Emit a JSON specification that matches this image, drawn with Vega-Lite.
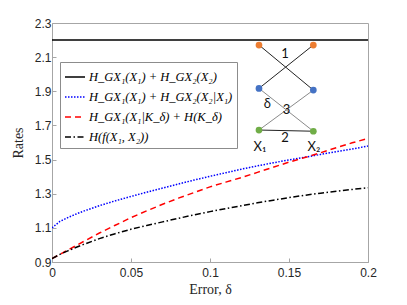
{
  "$schema": "https://vega.github.io/schema/vega-lite/v6.json",
  "width": 316,
  "height": 239,
  "autosize": {"type": "none"},
  "padding": {"left": 52, "top": 23, "right": 39, "bottom": 43},
  "background": "white",
  "datasets": {
    "curves": [
      {"series": "H_GX₁(X₁) + H_GX₂(X₂)", "delta": 0, "rate": 2.2},
      {"series": "H_GX₁(X₁) + H_GX₂(X₂)", "delta": 0.2, "rate": 2.2},
      {"series": "H_GX₁(X₁) + H_GX₂(X₂|X₁)", "delta": 0, "rate": 1.1},
      {"series": "H_GX₁(X₁) + H_GX₂(X₂|X₁)", "delta": 0.005, "rate": 1.138},
      {"series": "H_GX₁(X₁) + H_GX₂(X₂|X₁)", "delta": 0.01, "rate": 1.16},
      {"series": "H_GX₁(X₁) + H_GX₂(X₂|X₁)", "delta": 0.015, "rate": 1.18},
      {"series": "H_GX₁(X₁) + H_GX₂(X₂|X₁)", "delta": 0.02, "rate": 1.198},
      {"series": "H_GX₁(X₁) + H_GX₂(X₂|X₁)", "delta": 0.03, "rate": 1.23},
      {"series": "H_GX₁(X₁) + H_GX₂(X₂|X₁)", "delta": 0.04, "rate": 1.258},
      {"series": "H_GX₁(X₁) + H_GX₂(X₂|X₁)", "delta": 0.05, "rate": 1.284},
      {"series": "H_GX₁(X₁) + H_GX₂(X₂|X₁)", "delta": 0.06, "rate": 1.309},
      {"series": "H_GX₁(X₁) + H_GX₂(X₂|X₁)", "delta": 0.07, "rate": 1.333},
      {"series": "H_GX₁(X₁) + H_GX₂(X₂|X₁)", "delta": 0.08, "rate": 1.357},
      {"series": "H_GX₁(X₁) + H_GX₂(X₂|X₁)", "delta": 0.09, "rate": 1.38},
      {"series": "H_GX₁(X₁) + H_GX₂(X₂|X₁)", "delta": 0.1, "rate": 1.402},
      {"series": "H_GX₁(X₁) + H_GX₂(X₂|X₁)", "delta": 0.11, "rate": 1.423},
      {"series": "H_GX₁(X₁) + H_GX₂(X₂|X₁)", "delta": 0.12, "rate": 1.444},
      {"series": "H_GX₁(X₁) + H_GX₂(X₂|X₁)", "delta": 0.13, "rate": 1.463},
      {"series": "H_GX₁(X₁) + H_GX₂(X₂|X₁)", "delta": 0.14, "rate": 1.481},
      {"series": "H_GX₁(X₁) + H_GX₂(X₂|X₁)", "delta": 0.15, "rate": 1.498},
      {"series": "H_GX₁(X₁) + H_GX₂(X₂|X₁)", "delta": 0.16, "rate": 1.514},
      {"series": "H_GX₁(X₁) + H_GX₂(X₂|X₁)", "delta": 0.17, "rate": 1.53},
      {"series": "H_GX₁(X₁) + H_GX₂(X₂|X₁)", "delta": 0.18, "rate": 1.546},
      {"series": "H_GX₁(X₁) + H_GX₂(X₂|X₁)", "delta": 0.19, "rate": 1.562},
      {"series": "H_GX₁(X₁) + H_GX₂(X₂|X₁)", "delta": 0.2, "rate": 1.579},
      {"series": "H_GX₁(X₁|K_δ) + H(K_δ)", "delta": 0, "rate": 0.92},
      {"series": "H_GX₁(X₁|K_δ) + H(K_δ)", "delta": 0.005, "rate": 0.945},
      {"series": "H_GX₁(X₁|K_δ) + H(K_δ)", "delta": 0.01, "rate": 0.97},
      {"series": "H_GX₁(X₁|K_δ) + H(K_δ)", "delta": 0.015, "rate": 0.995},
      {"series": "H_GX₁(X₁|K_δ) + H(K_δ)", "delta": 0.02, "rate": 1.02},
      {"series": "H_GX₁(X₁|K_δ) + H(K_δ)", "delta": 0.03, "rate": 1.07},
      {"series": "H_GX₁(X₁|K_δ) + H(K_δ)", "delta": 0.04, "rate": 1.115},
      {"series": "H_GX₁(X₁|K_δ) + H(K_δ)", "delta": 0.05, "rate": 1.16},
      {"series": "H_GX₁(X₁|K_δ) + H(K_δ)", "delta": 0.06, "rate": 1.2},
      {"series": "H_GX₁(X₁|K_δ) + H(K_δ)", "delta": 0.07, "rate": 1.238},
      {"series": "H_GX₁(X₁|K_δ) + H(K_δ)", "delta": 0.08, "rate": 1.274},
      {"series": "H_GX₁(X₁|K_δ) + H(K_δ)", "delta": 0.09, "rate": 1.307},
      {"series": "H_GX₁(X₁|K_δ) + H(K_δ)", "delta": 0.1, "rate": 1.34},
      {"series": "H_GX₁(X₁|K_δ) + H(K_δ)", "delta": 0.11, "rate": 1.368},
      {"series": "H_GX₁(X₁|K_δ) + H(K_δ)", "delta": 0.12, "rate": 1.395},
      {"series": "H_GX₁(X₁|K_δ) + H(K_δ)", "delta": 0.13, "rate": 1.425},
      {"series": "H_GX₁(X₁|K_δ) + H(K_δ)", "delta": 0.14, "rate": 1.455},
      {"series": "H_GX₁(X₁|K_δ) + H(K_δ)", "delta": 0.15, "rate": 1.485},
      {"series": "H_GX₁(X₁|K_δ) + H(K_δ)", "delta": 0.16, "rate": 1.512},
      {"series": "H_GX₁(X₁|K_δ) + H(K_δ)", "delta": 0.17, "rate": 1.54},
      {"series": "H_GX₁(X₁|K_δ) + H(K_δ)", "delta": 0.18, "rate": 1.57},
      {"series": "H_GX₁(X₁|K_δ) + H(K_δ)", "delta": 0.19, "rate": 1.598},
      {"series": "H_GX₁(X₁|K_δ) + H(K_δ)", "delta": 0.2, "rate": 1.624},
      {"series": "H(f(X₁, X₂))", "delta": 0, "rate": 0.92},
      {"series": "H(f(X₁, X₂))", "delta": 0.005, "rate": 0.945},
      {"series": "H(f(X₁, X₂))", "delta": 0.01, "rate": 0.965},
      {"series": "H(f(X₁, X₂))", "delta": 0.015, "rate": 0.985},
      {"series": "H(f(X₁, X₂))", "delta": 0.02, "rate": 1.003},
      {"series": "H(f(X₁, X₂))", "delta": 0.03, "rate": 1.037},
      {"series": "H(f(X₁, X₂))", "delta": 0.04, "rate": 1.066},
      {"series": "H(f(X₁, X₂))", "delta": 0.05, "rate": 1.092},
      {"series": "H(f(X₁, X₂))", "delta": 0.06, "rate": 1.114},
      {"series": "H(f(X₁, X₂))", "delta": 0.07, "rate": 1.135},
      {"series": "H(f(X₁, X₂))", "delta": 0.08, "rate": 1.156},
      {"series": "H(f(X₁, X₂))", "delta": 0.09, "rate": 1.176},
      {"series": "H(f(X₁, X₂))", "delta": 0.1, "rate": 1.195},
      {"series": "H(f(X₁, X₂))", "delta": 0.11, "rate": 1.213},
      {"series": "H(f(X₁, X₂))", "delta": 0.12, "rate": 1.23},
      {"series": "H(f(X₁, X₂))", "delta": 0.13, "rate": 1.247},
      {"series": "H(f(X₁, X₂))", "delta": 0.14, "rate": 1.262},
      {"series": "H(f(X₁, X₂))", "delta": 0.15, "rate": 1.277},
      {"series": "H(f(X₁, X₂))", "delta": 0.16, "rate": 1.291},
      {"series": "H(f(X₁, X₂))", "delta": 0.17, "rate": 1.303},
      {"series": "H(f(X₁, X₂))", "delta": 0.18, "rate": 1.314},
      {"series": "H(f(X₁, X₂))", "delta": 0.19, "rate": 1.325},
      {"series": "H(f(X₁, X₂))", "delta": 0.2, "rate": 1.335}
    ],
    "edges": [
      {"kind": "dark", "delta": 0.131, "rate": 2.171, "delta2": 0.1654, "rate2": 1.907},
      {"kind": "dark", "delta": 0.1654, "rate": 2.171, "delta2": 0.131, "rate2": 1.917},
      {"kind": "light", "delta": 0.131, "rate": 1.917, "delta2": 0.1654, "rate2": 1.666},
      {"kind": "light", "delta": 0.1654, "rate": 1.907, "delta2": 0.131, "rate2": 1.673},
      {"kind": "dark", "delta": 0.131, "rate": 1.673, "delta2": 0.1654, "rate2": 1.666}
    ],
    "nodes": [
      {"level": "top", "delta": 0.131, "rate": 2.171},
      {"level": "top", "delta": 0.1654, "rate": 2.171},
      {"level": "middle", "delta": 0.131, "rate": 1.917},
      {"level": "middle", "delta": 0.1654, "rate": 1.907},
      {"level": "bottom", "delta": 0.131, "rate": 1.673},
      {"level": "bottom", "delta": 0.1654, "rate": 1.666}
    ],
    "labels": [
      {"text": "1", "delta": 0.1475, "rate": 2.118},
      {"text": "δ", "delta": 0.1363, "rate": 1.825},
      {"text": "3", "delta": 0.1485, "rate": 1.79},
      {"text": "2", "delta": 0.1475, "rate": 1.625},
      {"text": "X₁", "delta": 0.1316, "rate": 1.575},
      {"text": "X₂", "delta": 0.1658, "rate": 1.575}
    ]
  },
  "encoding": {
    "x": {"field": "delta", "type": "quantitative",
      "scale": {"domain": [0, 0.2], "nice": false},
      "axis": {"title": "Error, δ", "values": [0, 0.05, 0.1, 0.15, 0.2], "format": "~g", "labelOverlap": false, "labelFlush": false}},
    "y": {"field": "rate", "type": "quantitative",
      "scale": {"domain": [0.9, 2.3], "nice": false, "zero": false},
      "axis": {"title": "Rates", "values": [0.9, 1.1, 1.3, 1.5, 1.7, 1.9, 2.1, 2.3], "format": ".1f", "labelOverlap": false, "labelFlush": false}}
  },
  "layer": [
    {
      "data": {"name": "curves"},
      "mark": {"type": "line", "strokeWidth": 1.5, "clip": true},
      "encoding": {
        "color": {"field": "series", "type": "nominal",
          "scale": {"domain": ["H_GX₁(X₁) + H_GX₂(X₂)", "H_GX₁(X₁) + H_GX₂(X₂|X₁)", "H_GX₁(X₁|K_δ) + H(K_δ)", "H(f(X₁, X₂))"],
            "range": ["#000000", "#0000ff", "#ff0000", "#000000"]}},
        "strokeDash": {"field": "series", "type": "nominal",
          "scale": {"domain": ["H_GX₁(X₁) + H_GX₂(X₂)", "H_GX₁(X₁) + H_GX₂(X₂|X₁)", "H_GX₁(X₁|K_δ) + H(K_δ)", "H(f(X₁, X₂))"],
            "range": [[1, 0], [1.5, 1.5], [6, 4], [6, 2.5, 1.5, 2.5]]}}
      }
    },
    {
      "data": {"name": "edges"},
      "transform": [{"filter": "datum.kind == 'dark'"}],
      "mark": {"type": "rule", "color": "#222222", "strokeWidth": 1},
      "encoding": {
        "x2": {"field": "delta2"},
        "y2": {"field": "rate2"}
      }
    },
    {
      "data": {"name": "edges"},
      "transform": [{"filter": "datum.kind == 'light'"}],
      "mark": {"type": "rule", "color": "#8a8a8a", "strokeWidth": 1},
      "encoding": {
        "x2": {"field": "delta2"},
        "y2": {"field": "rate2"}
      }
    },
    {
      "data": {"name": "nodes"},
      "transform": [{"filter": "datum.level == 'top'"}],
      "mark": {"type": "point", "filled": true, "size": 45, "color": "#ED7D31", "opacity": 1},
      "encoding": {}
    },
    {
      "data": {"name": "nodes"},
      "transform": [{"filter": "datum.level == 'middle'"}],
      "mark": {"type": "point", "filled": true, "size": 45, "color": "#4472C4", "opacity": 1},
      "encoding": {}
    },
    {
      "data": {"name": "nodes"},
      "transform": [{"filter": "datum.level == 'bottom'"}],
      "mark": {"type": "point", "filled": true, "size": 45, "color": "#70AD47", "opacity": 1},
      "encoding": {}
    },
    {
      "data": {"name": "labels"},
      "mark": {"type": "text", "font": "Lato", "fontSize": 13, "color": "#111111", "baseline": "middle", "align": "center"},
      "encoding": {
        "text": {"field": "text"}
      }
    }
  ],
  "config": {
    "view": {"stroke": "#a6a6a6", "strokeWidth": 1},
    "axis": {
      "grid": false,
      "domainColor": "#a6a6a6",
      "tickColor": "#a6a6a6",
      "tickSize": -4,
      "labelFont": "Liberation Sans",
      "labelFontSize": 12,
      "labelColor": "#262626",
      "titleFont": "Liberation Serif",
      "titleFontSize": 14,
      "titleFontWeight": "normal",
      "titleColor": "#262626"
    },
    "axisY": {"labelPadding": 5, "titlePadding": 9},
    "axisX": {"labelPadding": 9, "titlePadding": 4},
    "legend": {
      "orient": "none",
      "legendX": 8,
      "legendY": 39,
      "title": null,
      "strokeColor": "#8c8c8c",
      "fillColor": "white",
      "padding": 4,
      "labelFont": "Liberation Serif",
      "labelFontStyle": "italic",
      "labelFontSize": 12.5,
      "labelColor": "#000000",
      "symbolType": "stroke",
      "symbolSize": 400,
      "symbolStrokeWidth": 1.5,
      "rowPadding": 2,
      "labelOffset": 3
    }
  }
}
